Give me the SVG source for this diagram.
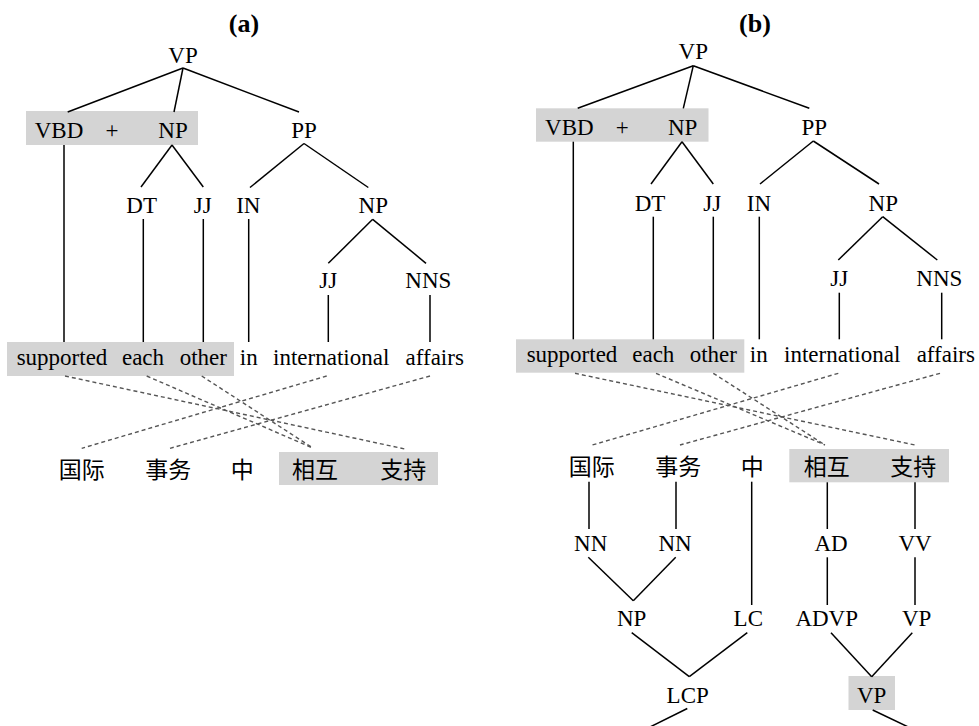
<svg xmlns="http://www.w3.org/2000/svg" width="979" height="726" viewBox="0 0 979 726">
<style>
#d text{font-size:23px;fill:#000;text-anchor:middle}
#d text.t{font-weight:700;font-size:26px}
.hl{fill:#d4d4d4}
.e line{stroke:#000;stroke-width:1.5;fill:none}
.d line{stroke:#555;stroke-width:1.4;stroke-dasharray:4 3;fill:none}
</style>
<rect width="979" height="726" fill="#fff"/>
<g id="d" style="font-family:'Liberation Serif','Times New Roman',serif">
<text class="t" x="244" y="32">(a)</text>
<text class="t" x="755" y="32">(b)</text>

<g id="boxes">
<rect class="hl" x="26" y="111" width="172" height="34"/>
<rect class="hl" x="7" y="342" width="227" height="34"/>
<rect class="hl" x="279" y="452" width="159" height="33"/>
<rect class="hl" x="536" y="108.3" width="172.5" height="33.4"/>
<rect class="hl" x="516" y="339.3" width="228.3" height="33.4"/>
<rect class="hl" x="789.3" y="449" width="159.7" height="33.3"/>
<rect class="hl" x="848.5" y="676" width="46.5" height="34"/>
</g>

<g id="edges" class="e">
<line x1="183" y1="68" x2="67.7" y2="112"/>
<line x1="183" y1="68" x2="174" y2="112"/>
<line x1="183" y1="68" x2="299" y2="112"/>
<line x1="64" y1="145" x2="64" y2="342"/>
<line x1="172" y1="145" x2="141" y2="187"/>
<line x1="172" y1="145" x2="203.3" y2="187"/>
<line x1="304" y1="143.5" x2="250" y2="187.5"/>
<line x1="304" y1="143.5" x2="368.3" y2="187.5"/>
<line x1="143.3" y1="219" x2="143.3" y2="342"/>
<line x1="203.3" y1="219" x2="203.3" y2="342"/>
<line x1="248.7" y1="219" x2="248.7" y2="342"/>
<line x1="372.7" y1="219.3" x2="328.3" y2="263.3"/>
<line x1="372.7" y1="219.3" x2="426" y2="263.3"/>
<line x1="328.3" y1="295" x2="328.3" y2="342"/>
<line x1="430" y1="295" x2="430" y2="342"/>
<line x1="693.3" y1="65.7" x2="577.7" y2="108.3"/>
<line x1="693.3" y1="65.7" x2="683.3" y2="108.3"/>
<line x1="693.3" y1="65.7" x2="809.3" y2="108.3"/>
<line x1="573.3" y1="141.7" x2="573.3" y2="339.3"/>
<line x1="682" y1="141.7" x2="651" y2="184"/>
<line x1="682" y1="141.7" x2="713.3" y2="184"/>
<line x1="813.3" y1="141" x2="760" y2="184"/>
<line x1="813.3" y1="141" x2="879" y2="184"/>
<line x1="653.3" y1="216.7" x2="653.3" y2="339.3"/>
<line x1="713.3" y1="216.7" x2="713.3" y2="339.3"/>
<line x1="759.3" y1="216.7" x2="759.3" y2="339.3"/>
<line x1="882.7" y1="216.7" x2="838.3" y2="260"/>
<line x1="882.7" y1="216.7" x2="937.3" y2="260"/>
<line x1="839.3" y1="292.7" x2="839.3" y2="339.3"/>
<line x1="941.7" y1="292.7" x2="941.7" y2="339.3"/>
<line x1="589" y1="481.7" x2="589" y2="529"/>
<line x1="676" y1="481.7" x2="676" y2="529"/>
<line x1="751.7" y1="481.7" x2="751.7" y2="605"/>
<line x1="827.3" y1="482.3" x2="827.3" y2="529"/>
<line x1="915" y1="482.3" x2="915" y2="529"/>
<line x1="588.3" y1="557.3" x2="633.3" y2="600.7"/>
<line x1="675.7" y1="557.3" x2="633.3" y2="600.7"/>
<line x1="827.3" y1="557.3" x2="827.3" y2="605"/>
<line x1="915" y1="557.3" x2="915" y2="605"/>
<line x1="631.7" y1="632.7" x2="689.3" y2="676.7"/>
<line x1="747.3" y1="632.7" x2="689.3" y2="676.7"/>
<line x1="831" y1="632.7" x2="871.7" y2="676.7"/>
<line x1="912.3" y1="632.7" x2="871.7" y2="676.7"/>
<line x1="687.3" y1="708.5" x2="650" y2="727"/>
<line x1="872.7" y1="710" x2="908.3" y2="727"/>
</g>

<g id="alignments" class="d">
<line x1="65" y1="376" x2="405" y2="449"/>
<line x1="146.7" y1="376" x2="313.3" y2="448.3"/>
<line x1="201.7" y1="376" x2="313.3" y2="448.3"/>
<line x1="326.7" y1="376" x2="81.7" y2="448.3"/>
<line x1="430" y1="376" x2="170" y2="448.3"/>
<line x1="575" y1="373.3" x2="915" y2="445"/>
<line x1="656" y1="373.3" x2="825" y2="445"/>
<line x1="713.3" y1="373.3" x2="825" y2="445"/>
<line x1="838.3" y1="373.3" x2="592.3" y2="445"/>
<line x1="940" y1="373.3" x2="680" y2="445"/>
</g>

<g id="a-VP"><text x="183" y="63">VP</text></g>
<g id="a-VBD-NP"><text x="59" y="138">VBD</text><text x="112" y="138">+</text><text x="173" y="138">NP</text></g>
<g id="a-PP"><text x="304" y="138">PP</text></g>
<g id="a-DT"><text x="141.7" y="213">DT</text></g>
<g id="a-JJ1"><text x="202.7" y="213">JJ</text></g>
<g id="a-IN"><text x="248.3" y="213">IN</text></g>
<g id="a-NP2"><text x="373.3" y="213">NP</text></g>
<g id="a-JJ2"><text x="328.3" y="288.3">JJ</text></g>
<g id="a-NNS"><text x="428.3" y="288.3">NNS</text></g>
<g id="a-words">
<text x="62" y="365">supported</text>
<text x="143" y="365">each</text>
<text x="203.3" y="365">other</text>
<text x="248.8" y="365">in</text>
<text x="331.2" y="365">international</text>
<text x="434.7" y="365">affairs</text>
</g>
<g id="a-zh" style="font-family:'Noto Sans CJK SC','Noto Sans CJK JP',sans-serif">
<text x="81.7" y="478">国际</text>
<text x="168.3" y="478">事务</text>
<text x="242.3" y="478">中</text>
<text x="315" y="478">相互</text>
<text x="403.3" y="478">支持</text>
</g>

<g id="b-VP"><text x="693.3" y="59.3">VP</text></g>
<g id="b-VBD-NP"><text x="569.3" y="135">VBD</text><text x="622.3" y="135">+</text><text x="682.7" y="135">NP</text></g>
<g id="b-PP"><text x="814.3" y="135">PP</text></g>
<g id="b-DT"><text x="650" y="210.7">DT</text></g>
<g id="b-JJ1"><text x="712.3" y="210.7">JJ</text></g>
<g id="b-IN"><text x="759" y="210.7">IN</text></g>
<g id="b-NP2"><text x="883.3" y="210.7">NP</text></g>
<g id="b-JJ2"><text x="839.3" y="286">JJ</text></g>
<g id="b-NNS"><text x="939.3" y="286">NNS</text></g>
<g id="b-words">
<text x="572" y="361.7">supported</text>
<text x="653.3" y="361.7">each</text>
<text x="713.3" y="361.7">other</text>
<text x="758.8" y="361.7">in</text>
<text x="842.2" y="361.7">international</text>
<text x="945.8" y="361.7">affairs</text>
</g>
<g id="b-zh" style="font-family:'Noto Sans CJK SC','Noto Sans CJK JP',sans-serif">
<text x="591.7" y="475">国际</text>
<text x="678.3" y="475">事务</text>
<text x="752.3" y="475">中</text>
<text x="826.7" y="475">相互</text>
<text x="913.3" y="475">支持</text>
</g>
<g id="b-NN1"><text x="590.7" y="550.7">NN</text></g>
<g id="b-NN2"><text x="675" y="550.7">NN</text></g>
<g id="b-AD"><text x="831" y="550.7">AD</text></g>
<g id="b-VV"><text x="915" y="550.7">VV</text></g>
<g id="b-NP3"><text x="631.7" y="626">NP</text></g>
<g id="b-LC"><text x="748.3" y="626">LC</text></g>
<g id="b-ADVP"><text x="826.7" y="626">ADVP</text></g>
<g id="b-VP2"><text x="916.7" y="626">VP</text></g>
<g id="b-LCP"><text x="687.7" y="703">LCP</text></g>
<g id="b-VP3"><text x="871.7" y="703">VP</text></g>
</g>
</svg>
